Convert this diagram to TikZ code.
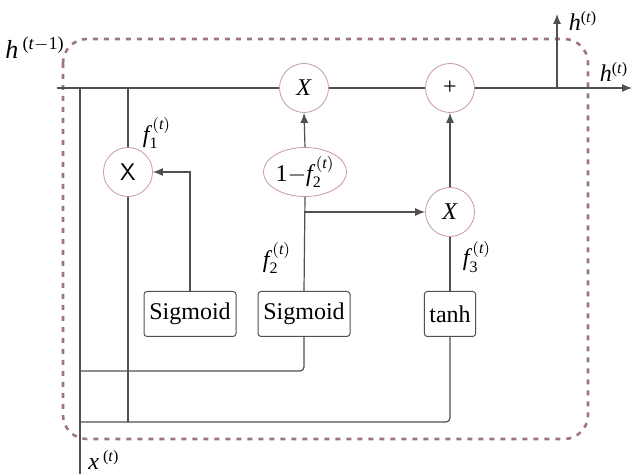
\documentclass[tikz,border=0pt]{standalone}
\usepackage{amsmath}
\usepackage{fontspec}
\setmainfont{Liberation Serif}
\usetikzlibrary{arrows.meta,shapes.geometric}
\definecolor{cellrim}{HTML}{9C7482}
\definecolor{gaterim}{HTML}{C79A9A}
\definecolor{wire}{HTML}{505050}
\newcommand{\tsup}{(\textit{t})}
\begin{document}
\begin{tikzpicture}[x=0.5pt,y=-0.5pt,
	gate/.style={circle,draw=gaterim,line width=0.4pt,minimum size=24.5pt,inner sep=0pt,font=\fontsize{12}{14}\selectfont},
	onegate/.style={ellipse,draw=gaterim,line width=0.4pt,minimum width=35pt,minimum height=24.5pt,inner sep=0pt,font=\fontsize{12}{14}\selectfont},
	actbox/.style={draw=wire,rounded corners=1.5pt,line width=0.5pt,minimum height=22.5pt,inner xsep=2.5pt,font=\fontsize{12}{14}\selectfont},
	wire/.style={draw=wire,line width=0.6pt},
	arr/.style={wire,-{Latex[length=5pt,width=4pt]}},
	lbl/.style={font=\fontsize{12}{14}\selectfont,inner sep=0pt}]
\useasboundingbox (0,0) rectangle (633,474);

% cell border
\draw[cellrim,line width=1.3pt,dash pattern=on 2.5pt off 3pt,rounded corners=12pt]
	(63,39) rectangle (588,439);

% gates
\node[gate] (mult1) at (128,172) {\fontfamily{lmss}\selectfont X};
\node[gate] (mult2) at (304,88) {\textit{X}};
\node[gate] (plus) at (450,88) {+};
\node[onegate] (oneminus) at (305,172) {1$-$$\textit{f}^{\,\tsup}_{\text{2}}$};
\node[gate] (mult3) at (450,212) {\textit{X}};

% activations
\node[actbox,minimum width=46pt] (sigA) at (190,314) {Sigmoid};
\node[actbox,minimum width=46pt] (sigB) at (304,314) {Sigmoid};
\node[actbox] (tanh) at (450,314) {tanh};

% wire ends
\coordinate (hin) at (57,88);
\coordinate (hsplit) at (557,88);
\coordinate (hout) at (632,88);
\coordinate (hup) at (557,14);
\coordinate (xin) at (80,474);
\coordinate (xtop) at (80,88);
\coordinate (ftop) at (128,88);
\coordinate (fbot) at (128,422);
\coordinate (busA) at (80,371);
\coordinate (busB) at (80,422);
\coordinate (fork) at (305,212);

% connections
\path[wire] (hin) -- (mult2) -- (plus) -- (hsplit);
\path[arr] (hsplit) -- (hout);
\path[arr] (hsplit) -- (hup);
\path[wire] (xin) -- (xtop);
\path[wire] (ftop) -- (mult1) -- (fbot);
\path[wire,rounded corners=2pt] (busA) -| (sigB.south);
\path[wire,rounded corners=2pt] (busB) -| (tanh.south);
\path[arr] (sigA.north) |- (mult1.east);
\path[wire] (sigB.north) -- (oneminus.south);
\path[arr] (oneminus.north) -- (mult2.south);
\path[arr] (fork) -- (mult3.west);
\path[wire] (tanh.north) -- (mult3.south);
\path[arr] (mult3.north) -- (plus.south);

% labels
\node[lbl] (lhprev) at (35,48) {\fontsize{13}{15}\selectfont\textit{h}\,\textsuperscript{(\textit{t}$-$1)}};
\node[lbl] (lhup) at (583,21) {\textit{h}\textsuperscript{\tsup}};
\node[lbl] (lhout) at (614,72) {\textit{h}\textsuperscript{\tsup}};
\node[lbl] (lf1) at (157,133) {$\textit{f}^{\,\tsup}_{\text{1}}$};
\node[lbl] (lf2) at (277,258) {$\textit{f}^{\,\tsup}_{\text{2}}$};
\node[lbl] (lf3) at (477,257) {$\textit{f}^{\,\tsup}_{\text{3}}$};
\node[lbl] (lx) at (104,460) {\textit{x}\,\textsuperscript{\tsup}};
\end{tikzpicture}
\end{document}
